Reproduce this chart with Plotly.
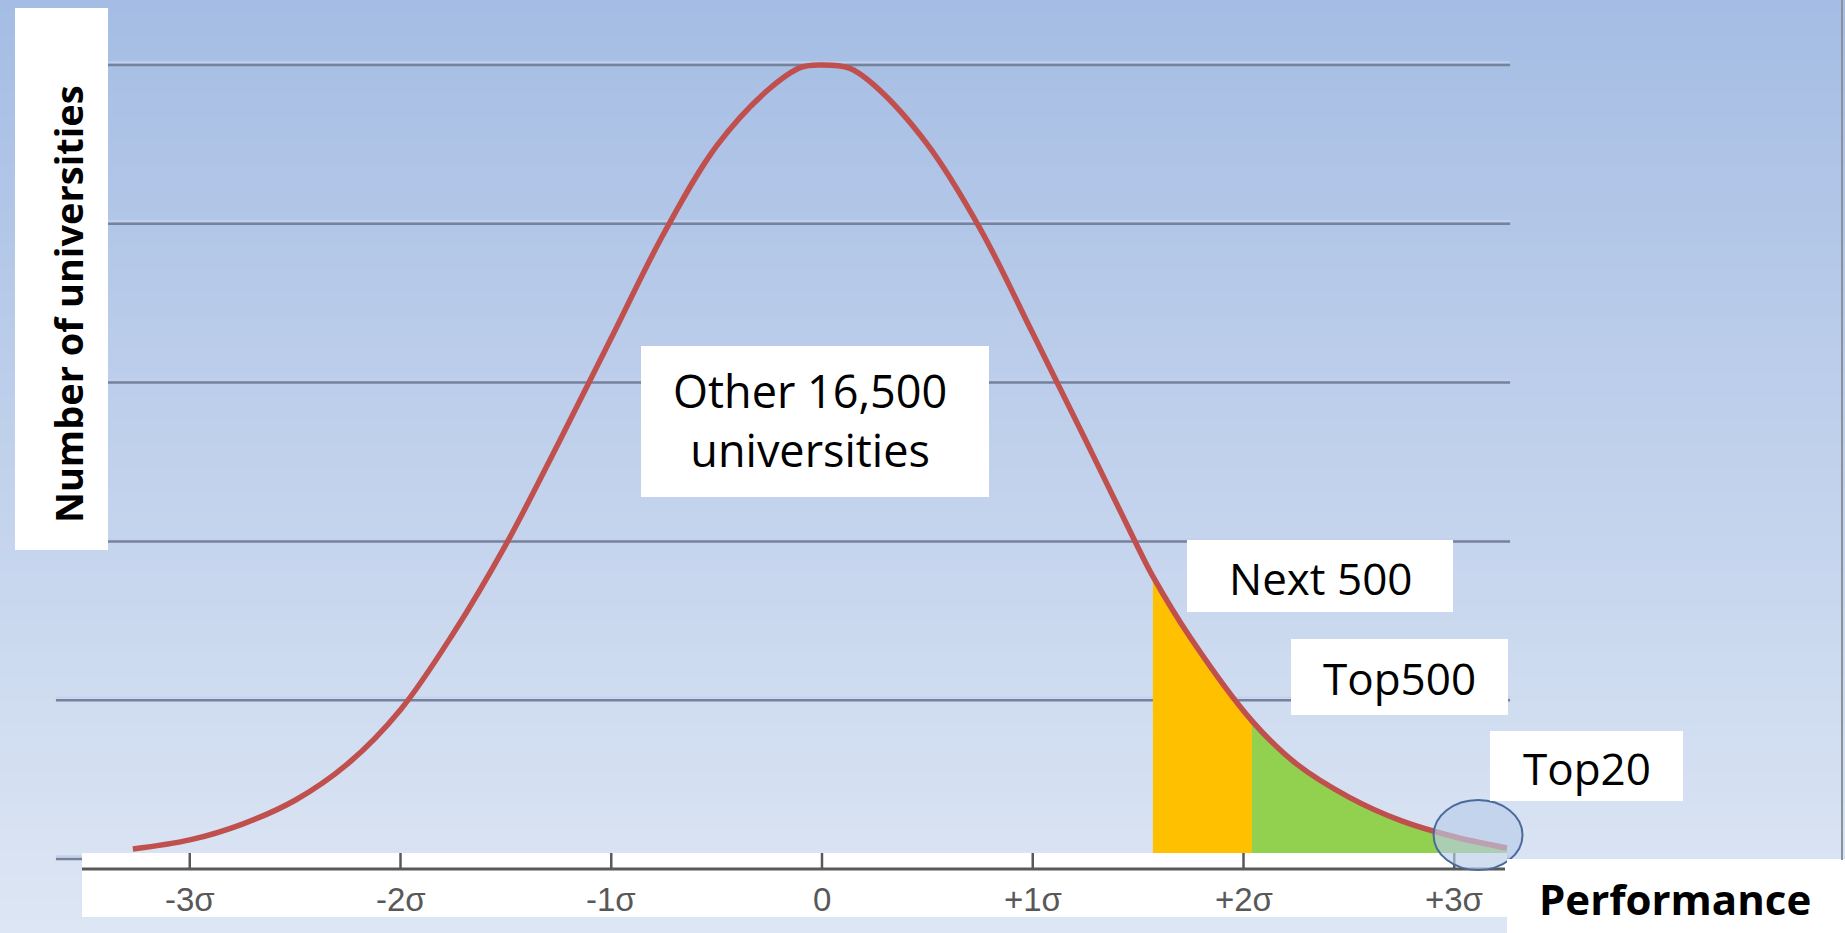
import numpy as np
import plotly.graph_objects as go

# ---- data -------------------------------------------------------------
# Performance in standard deviations and relative number of universities
sigma = [-3.27, -3.00, -2.75, -2.50, -2.25, -2.00, -1.75, -1.50, -1.25, -1.00,
         -0.75, -0.50, -0.25, -0.10, 0.00, 0.13, 0.25, 0.50, 0.75, 1.00,
         1.25, 1.50, 1.57, 1.75, 2.04, 2.25, 2.50, 2.75, 3.00, 3.25]
count = [0.063, 0.12, 0.22, 0.37, 0.60, 0.94, 1.42, 1.98, 2.62, 3.28,
         3.94, 4.49, 4.85, 4.985, 5.00, 4.98, 4.87, 4.50, 3.97, 3.31,
         2.64, 1.96, 1.78, 1.39, 0.87, 0.60, 0.39, 0.24, 0.14, 0.069]

next500_band = [1.57, 2.04]
top500_band = [2.04, 3.25]

tick_values = [-3, -2, -1, 0, 1, 2, 3]
tick_labels = ["-3σ", "-2σ", "-1σ", "0", "+1σ", "+2σ", "+3σ"]
grid_levels = [0, 1, 2, 3, 4, 5]

# ---- canvas geometry --------------------------------------------------
W, H = 1845, 933
X_RANGE = [-3.9004, 4.8541]
Y_RANGE = [-0.466, 5.409]


def px(x):
    return x / W


def py(y):
    return 1 - y / H


def band(lo, hi):
    keep = [(s, c) for s, c in zip(sigma, count) if lo - 1e-9 <= s <= hi + 1e-9]
    return [k[0] for k in keep], [k[1] for k in keep]


shapes = []

# background gradient
top_rgb = np.array([165, 189, 228])
bot_rgb = np.array([221, 230, 244])
n_bands = 80
for i in range(n_bands):
    t = i / (n_bands - 1)
    c = (top_rgb + (bot_rgb - top_rgb) * t).round().astype(int)
    shapes.append(dict(type="rect", xref="paper", yref="paper",
                       x0=0, x1=1, y0=1 - (i + 1) / n_bands - 0.003, y1=1 - i / n_bands,
                       fillcolor=f"rgb({c[0]},{c[1]},{c[2]})", line_width=0, layer="below"))

# horizontal gridlines
for g in grid_levels:
    shapes.append(dict(type="line", xref="x", yref="y", x0=-3.635, x1=3.265,
                       y0=g + 0.017, y1=g + 0.017,
                       line=dict(color="rgba(196,206,238,0.9)", width=2), layer="below"))
    shapes.append(dict(type="line", xref="x", yref="y", x0=-3.635, x1=3.265, y0=g, y1=g,
                       line=dict(color="#74829B", width=2.5), layer="below"))

# white strip behind the horizontal axis
shapes.append(dict(type="rect", xref="paper", yref="paper",
                   x0=px(82), x1=px(1507), y0=py(917), y1=py(853),
                   fillcolor="white", line_width=0, layer="above"))
# axis line and tick marks
shapes.append(dict(type="line", xref="paper", yref="paper",
                   x0=px(82), x1=px(1505), y0=py(869), y1=py(869),
                   line=dict(color="#595959", width=3), layer="above"))
for tv in tick_values:
    shapes.append(dict(type="line", xref="x", yref="paper", x0=tv, x1=tv,
                       y0=py(869), y1=py(853),
                       line=dict(color="#595959", width=2.5), layer="above"))

# highlight ring around the extreme tail
shapes.append(dict(type="circle", xref="x", yref="y",
                   x0=2.902, x1=3.324, y0=-0.069, y1=0.372,
                   fillcolor="rgba(184,204,232,0.65)",
                   line=dict(color="#4A6A9C", width=2), layer="above"))

# label boxes
boxes = [
    (15, 108, 8, 550),      # Number of universities
    (641, 989, 346, 497),   # Other 16,500 universities
    (1187, 1453, 540, 612), # Next 500
    (1291, 1508, 639, 715), # Top500
    (1490, 1683, 731, 801), # Top20
    (1507, 1845, 859, 933), # Performance
]
for x0, x1, y0, y1 in boxes:
    shapes.append(dict(type="rect", xref="paper", yref="paper",
                       x0=px(x0), x1=px(x1), y0=py(y1), y1=py(y0),
                       fillcolor="white", line_width=0, layer="above"))

# thin frame line on the right edge
shapes.append(dict(type="line", xref="paper", yref="paper",
                   x0=px(1842), x1=px(1842), y0=py(860), y1=1,
                   line=dict(color="#8C929C", width=2), layer="above"))

# ---- traces -----------------------------------------------------------
fig = go.Figure()

nx, ny = band(*next500_band)
fig.add_trace(go.Scatter(x=nx, y=ny, mode="lines", fill="tozeroy",
                         fillcolor="#FFC000", line=dict(width=0, shape="spline"),
                         hoverinfo="skip"))
tx, ty = band(*top500_band)
fig.add_trace(go.Scatter(x=tx, y=ty, mode="lines", fill="tozeroy",
                         fillcolor="#92D050", line=dict(width=0, shape="spline"),
                         hoverinfo="skip"))
fig.add_trace(go.Scatter(x=sigma, y=count, mode="lines",
                         line=dict(color="#C0504D", width=5.5, shape="spline"),
                         hoverinfo="skip"))

# ---- text -------------------------------------------------------------
TXT = "Open Sans"
annotations = [
    dict(text="<b>Number of universities</b>", x=px(68), y=py(304), textangle=-90,
         font=dict(family=TXT, size=38, color="black")),
    dict(text="Other 16,500<br>universities", x=px(810), y=py(420),
         font=dict(family=TXT, size=45, color="black")),
    dict(text="Next 500", x=px(1320), y=py(578),
         font=dict(family=TXT, size=44, color="black")),
    dict(text="Top500", x=px(1399), y=py(678),
         font=dict(family=TXT, size=44, color="black")),
    dict(text="Top20", x=px(1587), y=py(768),
         font=dict(family=TXT, size=44, color="black")),
    dict(text="<b>Performance</b>", x=px(1675), y=py(898),
         font=dict(family=TXT, size=42, color="black")),
]
for a in annotations:
    a.update(xref="paper", yref="paper", showarrow=False,
             xanchor="center", yanchor="middle")

for tv, tl in zip(tick_values, tick_labels):
    annotations.append(dict(text=tl, x=tv, y=py(899), xref="x", yref="paper",
                            showarrow=False, xanchor="center", yanchor="middle",
                            font=dict(family="Liberation Sans", size=33, color="#585858")))

fig.update_layout(
    width=W, height=H,
    margin=dict(l=0, r=0, t=0, b=0),
    paper_bgcolor="rgb(221,230,244)",
    plot_bgcolor="rgba(0,0,0,0)",
    showlegend=False,
    xaxis=dict(range=X_RANGE, visible=False, fixedrange=True),
    yaxis=dict(range=Y_RANGE, visible=False, fixedrange=True),
    shapes=shapes,
    annotations=annotations,
)

fig.write_html("out.html")
